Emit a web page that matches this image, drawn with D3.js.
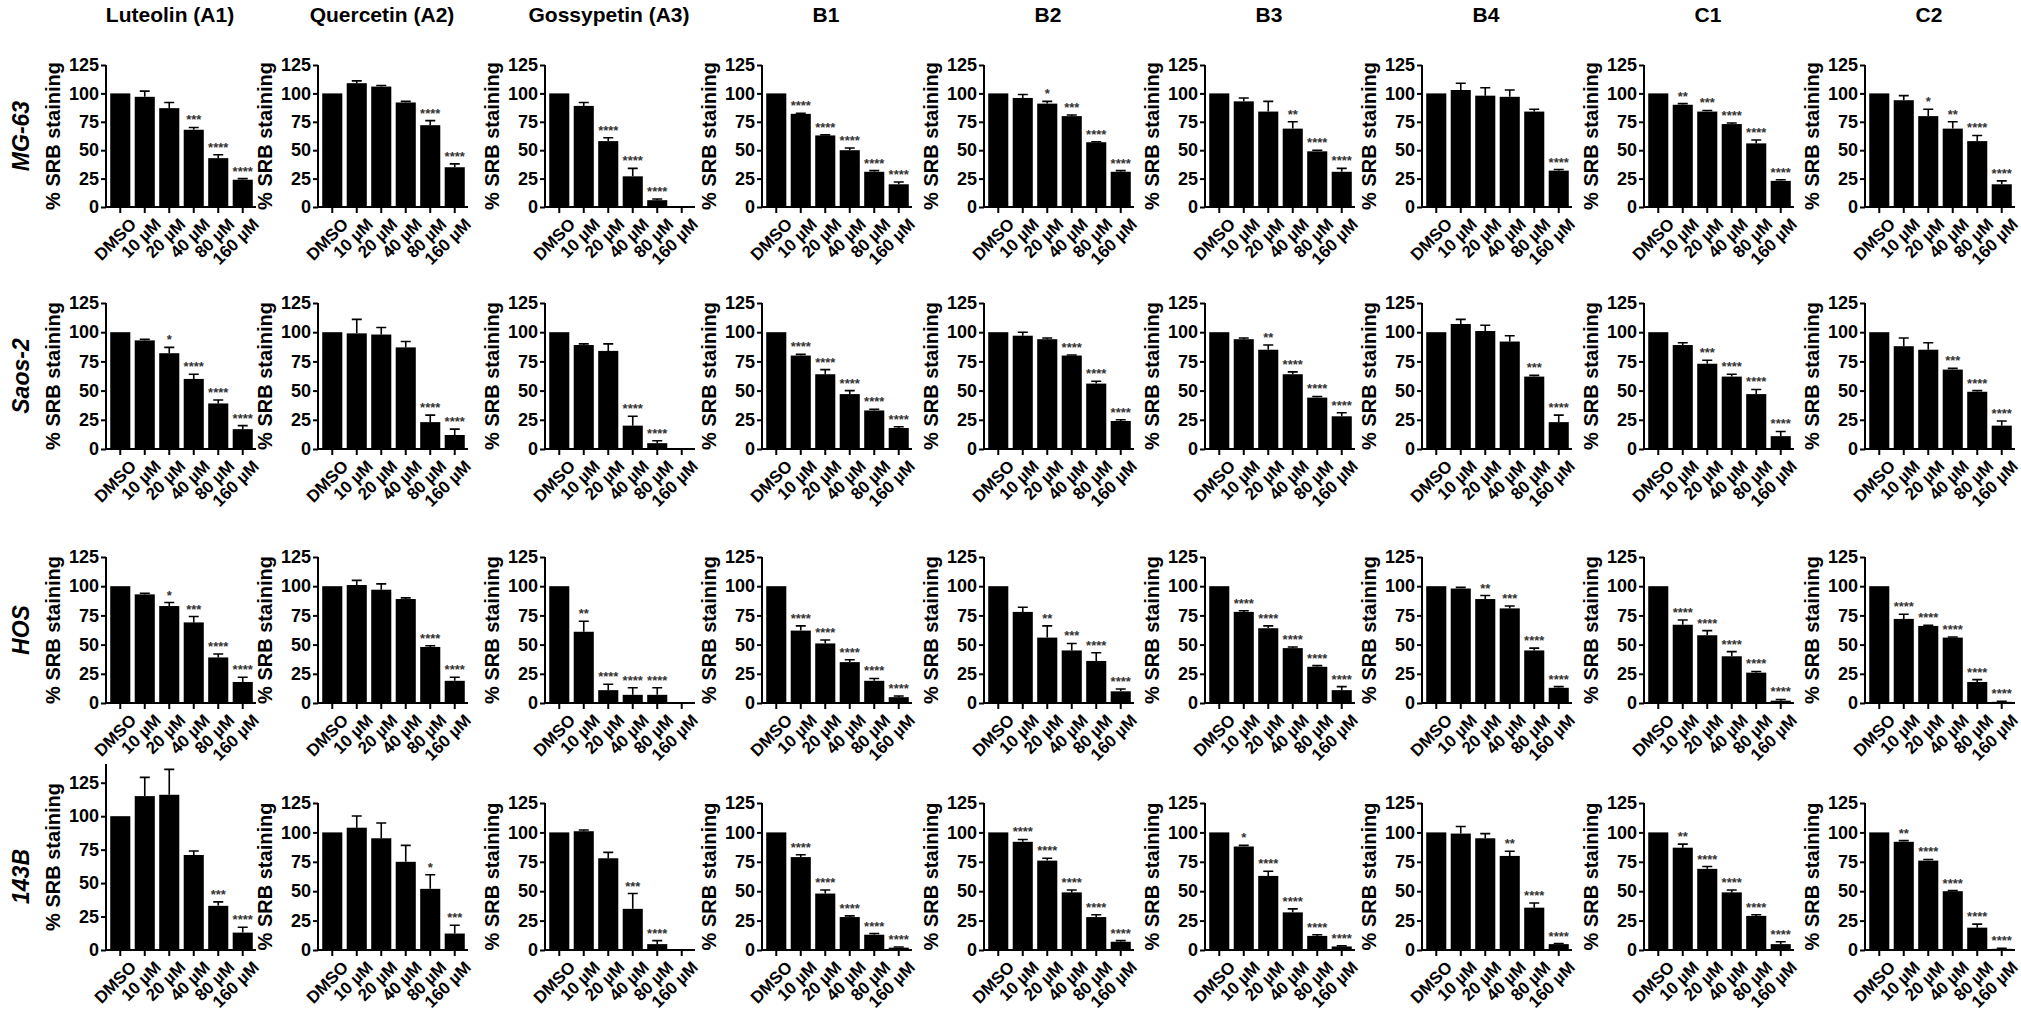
<!DOCTYPE html>
<html>
<head>
<meta charset="utf-8">
<script src="https://cdn.jsdelivr.net/npm/d3@7"></script>
<style>
body { margin: 0; background: #fff; }
text { font-family: "Liberation Sans", Arial, sans-serif; font-weight: bold; }
</style>
</head>
<body>
<svg id="chart" width="2021" height="1019"></svg>
<script>
var compounds = ["Luteolin (A1)", "Quercetin (A2)", "Gossypetin (A3)", "B1", "B2", "B3", "B4", "C1", "C2"];
var cellLines = ["MG-63", "Saos-2", "HOS", "143B"];
var doses = ["DMSO", "10 µM", "20 µM", "40 µM", "80 µM", "160 µM"];

// mean % SRB staining, one array per compound, per cell line
var mg63Means = [[100,97,87,68,43,24],[100,109,106,92,72,35],[100,89,58,27,6,0],[100,82,63,50,31,20],[100,96,91,80,57,31],[100,93,84,69,49,31],[100,103,98,97,84,32],[100,90,84,73,56,23],[100,94,80,69,58,20]];
var mg63Err   = [[0,5,5,2,3,1],[0,2,1,1,4,3],[0,3,3,7,1,0],[0,0.5,0.5,2,1,2],[0,3,2,1,0.5,1],[0,3,9,6,1,3],[0,6,7,6,2,1],[0,1,1,1,3,1],[0,4,6,6,5,3]];
var mg63Stars = [["","","","***","****","****"],["","","","","****","****"],["","","****","****","****",""],["","****","****","****","****","****"],["","","*","***","****","****"],["","","","**","****","****"],["","","","","","****"],["","**","***","****","****","****"],["","","*","**","****","****"]];

var saosMeans = [[100,93,82,60,39,17],[100,99,98,87,23,12],[100,89,84,20,5,0],[100,80,64,47,33,18],[100,97,94,80,56,24],[100,94,85,64,44,28],[100,107,101,92,62,23],[100,89,73,62,47,11],[100,88,85,68,49,20]];
var saosErr   = [[0,1,5,4,3,3],[0,12,6,5,6,5],[0,1,6,8,2,0],[0,1,4,3,1,1],[0,3,1,0.5,2,1],[0,1,4,2,1,3],[0,4,5,5,1,6],[0,2,3,2,4,4],[0,7,6,1,1,4]];
var saosStars = [["","","*","****","****","****"],["","","","","****","****"],["","","","****","****",""],["","****","****","****","****","****"],["","","","****","****","****"],["","","**","****","****","****"],["","","","","***","****"],["","","***","****","****","****"],["","","","***","****","****"]];

var hosMeans = [[100,93,83,69,39,18],[100,101,97,89,48,19],[100,61,11,7,7,0],[100,62,51,35,19,5],[100,78,56,45,36,10],[100,78,64,47,31,11],[100,98,89,81,45,13],[100,67,58,40,26,2],[100,72,66,56,18,1]];
var hosErr   = [[0,1,3,5,3,4],[0,4,5,1,1,3],[0,9,5,6,6,0],[0,4,3,2,2,1],[0,4,10,6,7,2],[0,1,2,1,1,3],[0,1,3,2,2,1],[0,4,4,4,1,1],[0,4,0.5,0.5,2,0.5]];
var hosStars = [["","","*","***","****","****"],["","","","","****","****"],["","**","****","****","****",""],["","****","****","****","****","****"],["","","**","***","****","****"],["","****","****","****","****","****"],["","","**","***","****","****"],["","****","****","****","****","****"],["","****","****","****","****","****"]];

var b143Means = [[100,115,116,71,33,13],[100,104,95,75,52,14],[100,101,78,35,5,0],[100,79,48,28,13,2],[100,92,76,49,28,7],[100,88,63,32,12,3],[100,99,95,80,36,5],[100,87,69,49,29,5],[100,92,76,50,19,1]];
var b143Err   = [[0,14,19,3,3,4],[0,10,13,14,12,7],[0,1,5,13,3,0],[0,2,3,1,1,0.5],[0,2,2,2,2,1],[0,1,4,3,1,0.5],[0,6,4,4,4,0.5],[0,3,2,2,1,2],[0,1,1,0.5,3,0.5]];
var b143Stars = [["","","","","***","****"],["","","","","*","***"],["","","","***","****",""],["","****","****","****","****","****"],["","****","****","****","****","****"],["","*","****","****","****","****"],["","","","**","****","****"],["","**","****","****","****","****"],["","**","****","****","****","****"]];

var yTicks = [0, 25, 50, 75, 100, 125];

var allMeans = [mg63Means, saosMeans, hosMeans, b143Means];
var allErr = [mg63Err, saosErr, hosErr, b143Err];
var allStars = [mg63Stars, saosStars, hosStars, b143Stars];

// layout (pixels)
var colX = [106, 318, 545, 762, 984, 1205, 1422, 1644, 1865];
var rowTop = [65, 303, 557, 803];
var rowBottom = [207, 449, 703, 950];
var plotW = 148;

var svg = d3.select("#chart");

// column titles
svg.selectAll(".ctitle").data(compounds).enter().append("text")
  .attr("x", function(d, i) { return colX[i] + plotW / 2 - 10; })
  .attr("y", 22)
  .attr("text-anchor", "middle")
  .attr("font-size", 21)
  .text(function(d) { return d; });

cellLines.forEach(function(line, r) {
  // row label
  svg.append("text")
    .attr("transform", "translate(29," + ((rowTop[r] + rowBottom[r]) / 2) + ") rotate(-90)")
    .attr("text-anchor", "middle")
    .attr("font-size", 23)
    .attr("font-style", "italic")
    .text(line);

  compounds.forEach(function(c, k) {
    var x0 = colX[k];
    var top = rowTop[r], yMax = 125;
    if (r === 3 && k === 0) { top = 764; yMax = 139; }

    var y = d3.scaleLinear().domain([0, yMax]).range([rowBottom[r], top]);
    var x = d3.scaleBand().domain(doses).range([x0 + 3, x0 + plotW]).paddingInner(0.18).paddingOuter(0.05);

    var g = svg.append("g");
    var means = allMeans[r][k], errs = allErr[r][k], stars = allStars[r][k];

    g.selectAll("rect").data(means).enter().append("rect")
      .attr("x", function(d, i) { return x(doses[i]); })
      .attr("y", function(d) { return y(d); })
      .attr("width", x.bandwidth())
      .attr("height", function(d) { return y(0) - y(d); })
      .attr("fill", "#000");

    // error bars (upper only)
    g.selectAll(".err").data(means).enter().append("path")
      .attr("stroke", "#000").attr("stroke-width", 1.6).attr("fill", "none")
      .attr("d", function(d, i) {
        if (errs[i] <= 0) return null;
        var cx = x(doses[i]) + x.bandwidth() / 2;
        var yt = y(d + errs[i]);
        return "M" + cx + "," + y(d) + "V" + yt + "M" + (cx - 5) + "," + yt + "H" + (cx + 5);
      });

    // significance stars
    g.selectAll(".star").data(means).enter().append("text")
      .attr("x", function(d, i) { return x(doses[i]) + x.bandwidth() / 2; })
      .attr("y", function(d, i) { return y(d + errs[i]) - 3; })
      .attr("text-anchor", "middle")
      .attr("font-size", 13)
      .attr("font-weight", "normal")
      .attr("fill", "#333")
      .text(function(d, i) { return stars[i]; });

    // y axis
    var yAxis = d3.axisLeft(y).tickValues(yTicks).tickSize(5).tickPadding(2);
    var ya = g.append("g").attr("transform", "translate(" + x0 + ",0)").call(yAxis);
    ya.select(".domain").attr("stroke-width", 2).attr("d", "M0," + top + "V" + rowBottom[r]);
    ya.selectAll("line").attr("stroke-width", 2);
    ya.selectAll("text").attr("font-size", 18).attr("font-family", "Liberation Sans").attr("font-weight", "bold");

    // x axis
    var xAxis = d3.axisBottom(x).tickSize(6).tickSizeOuter(0);
    var xa = g.append("g").attr("transform", "translate(0," + rowBottom[r] + ")").call(xAxis);
    xa.select(".domain").attr("stroke-width", 2).attr("d", "M" + x0 + ",0H" + (x0 + plotW + 2));
    xa.selectAll("line").attr("stroke-width", 2);
    xa.selectAll("text")
      .attr("font-size", 17).attr("font-family", "Liberation Sans").attr("font-weight", "bold")
      .attr("text-anchor", "end")
      .attr("dx", "0.3em").attr("dy", "0.6em")
      .attr("transform", "rotate(-45)translate(-6,6)");

    // y title
    g.append("text")
      .attr("transform", "translate(" + (x0 - 46) + "," + ((top + rowBottom[r]) / 2) + ") rotate(-90)")
      .attr("text-anchor", "middle")
      .attr("font-size", 20)
      .text("% SRB staining");
  });
});
</script>
</body>
</html>
